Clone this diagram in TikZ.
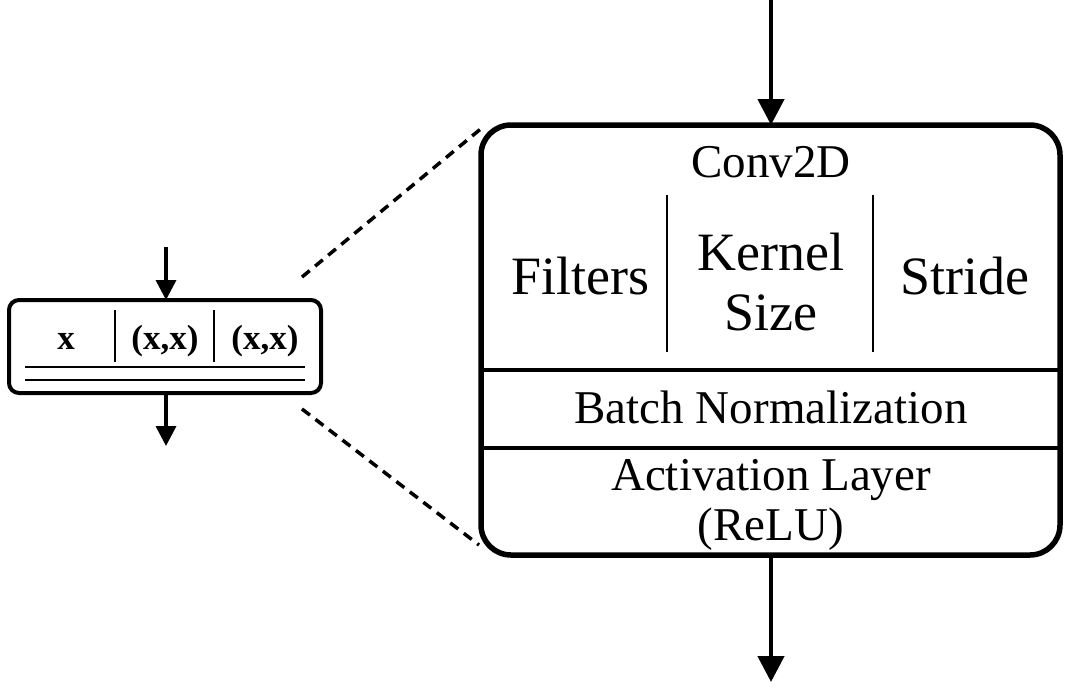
\documentclass[tikz,border=0pt]{standalone}
\usepackage{fontspec}
\setmainfont{Liberation Serif}
\usetikzlibrary{arrows.meta}
\begin{document}
\begin{tikzpicture}[x=1pt,y=-1pt,
  bigarrow/.style={line width=4.5pt,-{Triangle[length=26pt,width=26pt]}},
  smallarrow/.style={line width=3.5pt,-{Triangle[length=20pt,width=20pt]}},
  bigtxt/.style={font=\fontsize{54}{60}\selectfont,align=center,inner sep=0pt},
  midtxt/.style={font=\fontsize{47}{50}\selectfont,align=center,inner sep=0pt},
  smalltxt/.style={font=\fontsize{35}{40}\selectfont\bfseries,inner sep=0pt},
  divider/.style={line width=2pt},
  thindiv/.style={line width=1.3pt},
  dashline/.style={line width=3.5pt,dash pattern=on 10pt off 7pt}]
\useasboundingbox (0,0) rectangle (1076,686);
% big box
\draw[line width=5.5pt,rounded corners=30pt] (481,125) rectangle (1060,555);
\coordinate (bigTL) at (483,127);
\coordinate (bigBL) at (479,545);
\draw[line width=4.5pt] (481,370) -- (1060,370);
\draw[line width=4.5pt] (481,448) -- (1060,448);
\draw[divider] (667,195) -- (667,352);
\draw[divider] (873,195) -- (873,352);
\node[midtxt] (conv) at (771,162) {Conv2D};
\node[bigtxt] (filt) at (580,276) {Filters};
\node[bigtxt] (kern) at (771,282) {Kernel\\Size};
\node[bigtxt] (strd) at (965,276) {Stride};
\node[midtxt] (bn) at (771,407) {Batch Normalization};
\node[midtxt] (act) at (771,505) {Activation Layer\\(ReLU)};
\coordinate (bigtop) at (771,125);
\coordinate (bigbot) at (771,555);
\coordinate (in1) at (771,0);
\coordinate (out1) at (771,682);
\draw[bigarrow] (in1) -- (bigtop);
\draw[bigarrow] (bigbot) -- (out1);
% small box
\draw[line width=4pt,rounded corners=10pt] (9,300) rectangle (321,393);
\draw[thindiv] (115,310) -- (115,362);
\draw[thindiv] (214,310) -- (214,362);
\draw[thindiv] (25,367) -- (305,367);
\draw[thindiv] (25,380) -- (305,380);
\node[smalltxt] (sx) at (66,341) {x};
\node[smalltxt] (sk) at (165,341) {(x,x)};
\node[smalltxt] (ss) at (265,341) {(x,x)};
\coordinate (smalltop) at (166,300);
\coordinate (smallbot) at (166,393);
\coordinate (in2) at (166,247);
\coordinate (out2) at (166,446);
\draw[smallarrow] (in2) -- (smalltop);
\draw[smallarrow] (smallbot) -- (out2);
% dashed zoom lines
\coordinate (zs1) at (302,277);
\coordinate (zs2) at (302,409);
\draw[dashline] (zs1) -- (bigTL);
\draw[dashline] (zs2) -- (bigBL);
\end{tikzpicture}
\end{document}
